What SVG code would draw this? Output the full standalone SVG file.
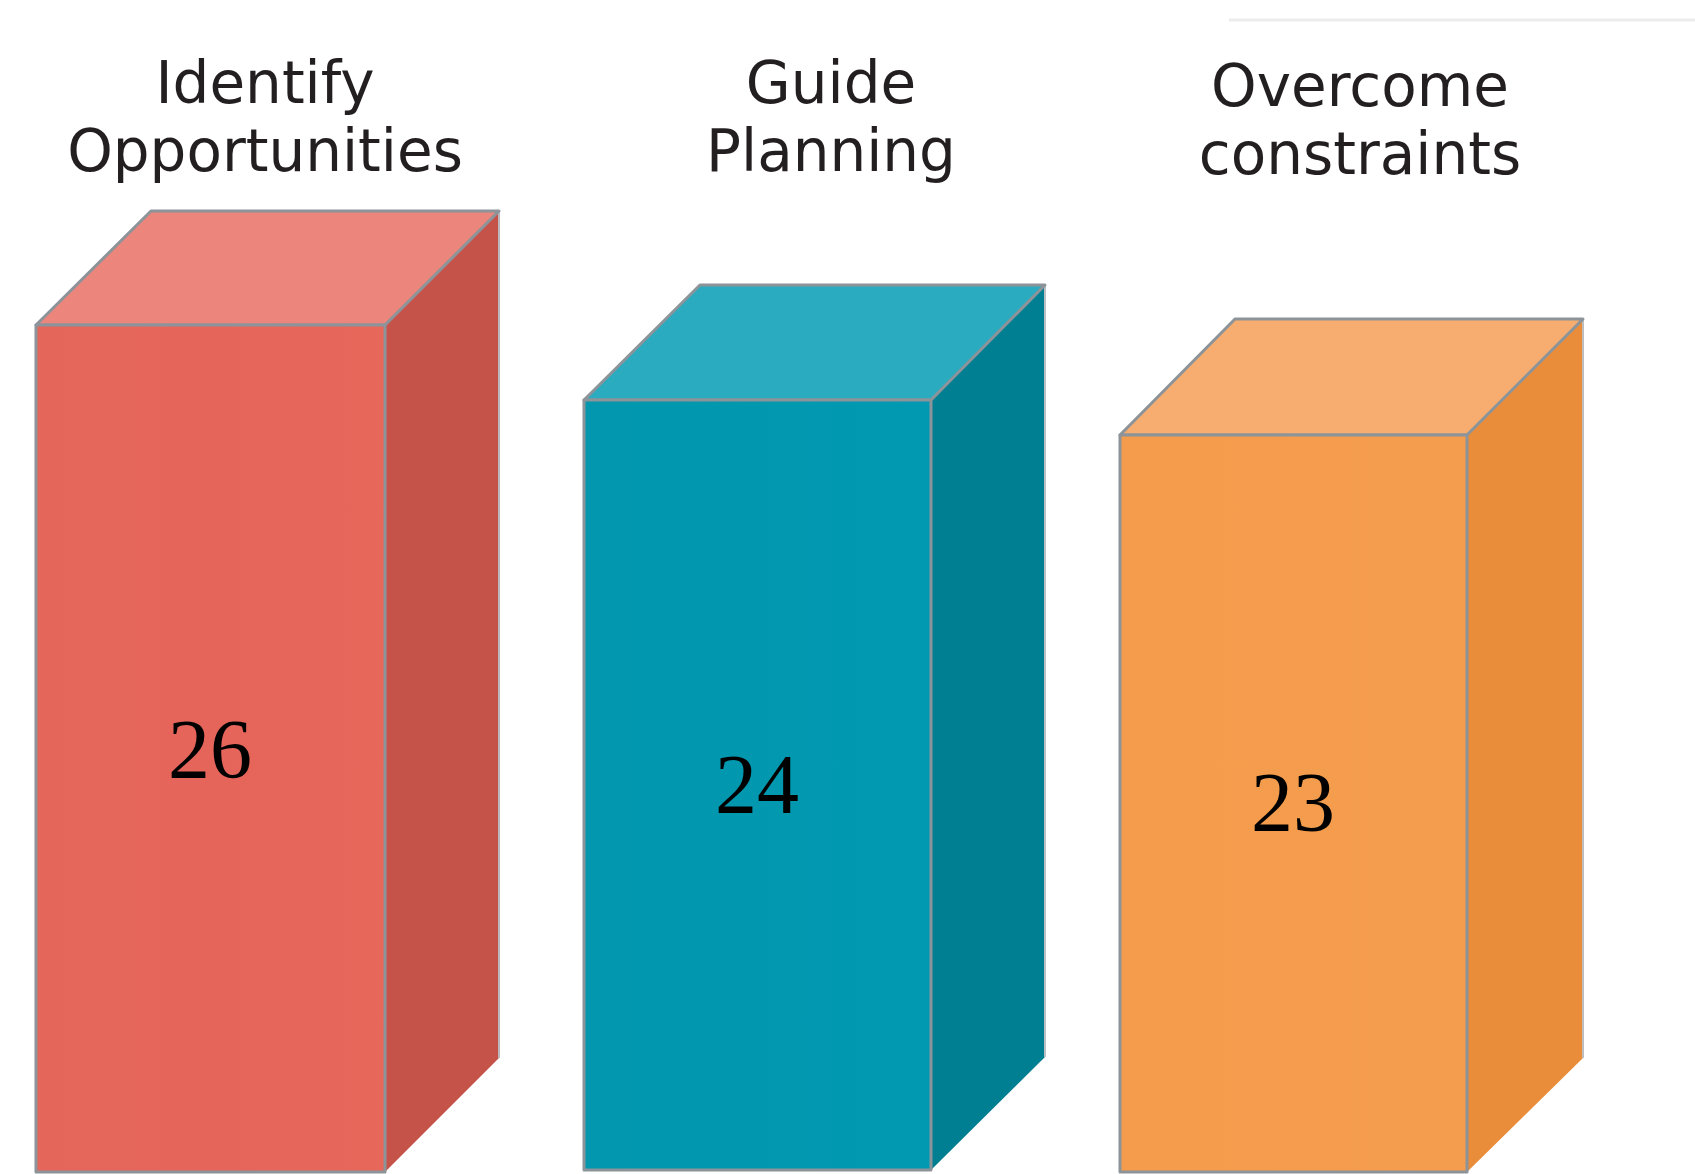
<svg xmlns="http://www.w3.org/2000/svg" width="1695" height="1174" viewBox="0 0 1695 1174">
<style>
.lbl{font-family:"DejaVu Sans","Liberation Sans",sans-serif;font-size:58px;fill:#231f20;text-anchor:middle}
.num{font-family:"Liberation Serif","DejaVu Serif",serif;font-size:84px;fill:#000;text-anchor:middle}
.edge{stroke:#8c9399;stroke-width:3;stroke-linejoin:round}
.side{stroke:none}
</style>
<defs>
<linearGradient id="gRed" x1="0" y1="0" x2="1" y2="0">
<stop offset="0" stop-color="#e4665b"/><stop offset="0.5" stop-color="#e6655a"/><stop offset="1" stop-color="#e8675b"/>
</linearGradient>
<linearGradient id="gBlue" x1="0" y1="0" x2="1" y2="0">
<stop offset="0" stop-color="#0297ae"/><stop offset="1" stop-color="#0099b1"/>
</linearGradient>
<linearGradient id="gOrange" x1="0" y1="0" x2="1" y2="0">
<stop offset="0" stop-color="#f49b4c"/><stop offset="1" stop-color="#f59d4e"/>
</linearGradient>
</defs>
<rect width="1695" height="1174" fill="#ffffff"/>
<line x1="1229" y1="20" x2="1695" y2="20" stroke="#ececec" stroke-width="3"/>

<g id="bar-identify">
<polygon class="side" points="385,325 499,211 499,1058 385,1172" fill="#c6534a"/>
<line x1="499" y1="211" x2="499" y2="1058" stroke="#b9b9bd" stroke-width="2"/>
<polygon class="edge" points="36,325 151,211 499,211 385,325" fill="#ec857c"/>
<rect class="edge" x="36" y="325" width="349" height="847" fill="url(#gRed)"/>
<text class="lbl" x="265" y="103">Identify</text>
<text class="lbl" x="265" y="171">Opportunities</text>
<text class="num" x="210" y="778">26</text>
</g>

<g id="bar-guide">
<polygon class="side" points="931,400 1045,285 1045,1057 931,1170" fill="#007f93"/>
<line x1="1045" y1="285" x2="1045" y2="1057" stroke="#b9bfc2" stroke-width="2"/>
<polygon class="edge" points="584,400 700,285 1045,285 931,400" fill="#2babbf"/>
<rect class="edge" x="584" y="400" width="347" height="770" fill="url(#gBlue)"/>
<text class="lbl" x="831" y="103">Guide</text>
<text class="lbl" x="831" y="171">Planning</text>
<text class="num" x="757" y="813">24</text>
</g>

<g id="bar-overcome">
<polygon class="side" points="1467,435 1583,319 1583,1058 1467,1172" fill="#e98d3a"/>
<line x1="1583" y1="319" x2="1583" y2="1058" stroke="#bdbdbd" stroke-width="2"/>
<polygon class="edge" points="1120,435 1235,319 1583,319 1467,435" fill="#f6ad6f"/>
<rect class="edge" x="1120" y="435" width="347" height="737" fill="url(#gOrange)"/>
<text class="lbl" x="1360" y="106">Overcome</text>
<text class="lbl" x="1360" y="174">constraints</text>
<text class="num" x="1293" y="831">23</text>
</g>

<g id="connectors"></g>
</svg>
